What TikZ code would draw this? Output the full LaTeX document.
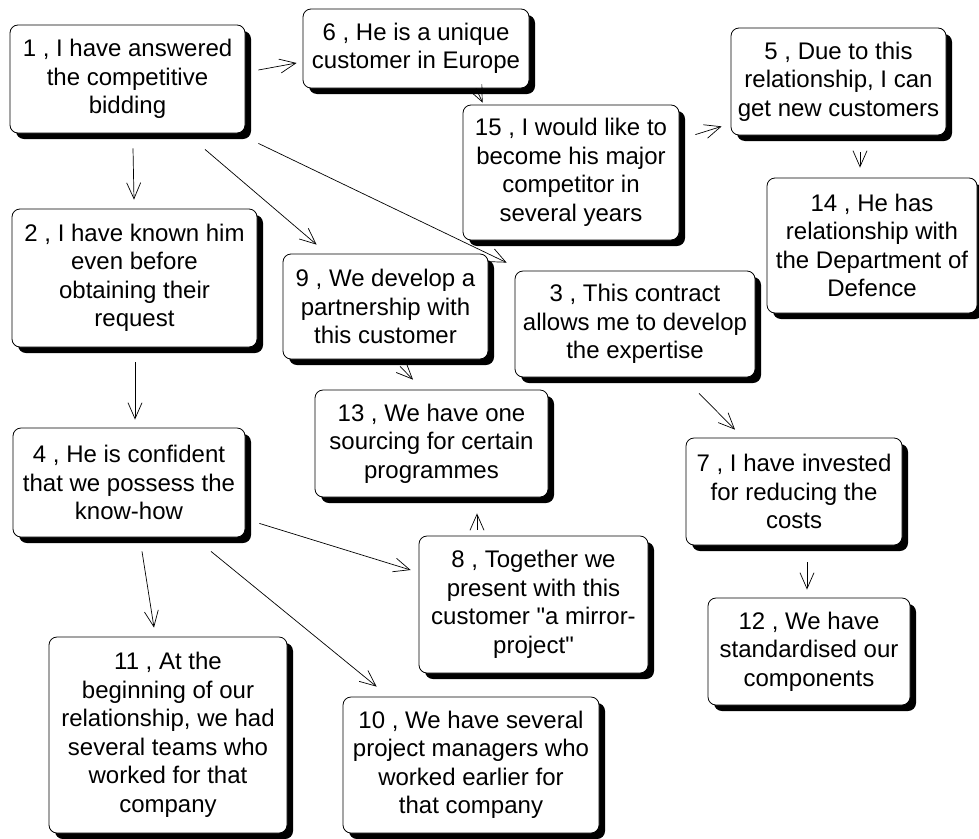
\documentclass[tikz,border=0pt]{standalone}
\usepackage{fontspec}
\setmainfont{Liberation Sans}[Ligatures=TeXOff]
\usetikzlibrary{arrows.meta,shadows}
\begin{document}
\begin{tikzpicture}[x=1pt,y=-1pt,
  card/.style={draw=black, line width=0.8pt, fill=white, rounded corners=8pt,
    align=center, inner sep=0pt, font=\fontsize{24}{28.5}\selectfont,
    drop shadow={shadow xshift=6pt, shadow yshift=-6pt, fill=black, opacity=1}},
  link/.style={line width=0.7pt, -{Straight Barb[length=16pt,width=14pt]}}]
\useasboundingbox (0,0) rectangle (979,838);

% statements
\node[card, minimum width=235pt, minimum height=108pt] (n1) at (127.5,79)
  {1 , I have answered\\the competitive\\bidding};
\node[card, minimum width=226pt, minimum height=79pt] (n6) at (416,48.5)
  {6 , He is a unique\\customer in Europe};
\node[card, minimum width=216pt, minimum height=135pt] (n15) at (571,172.5)
  {15 , I would like to\\become his major\\competitor in\\several years};
\node[card, minimum width=215pt, minimum height=107pt] (n5) at (838.5,81.5)
  {5 , Due to this\\relationship, I can\\get new customers};
\node[card, minimum width=210pt, minimum height=135pt] (n14) at (872,245.5)
  {14 , He has\\relationship with\\the Department of\\Defence};
\node[card, minimum width=245pt, minimum height=138pt] (n2) at (134.5,278)
  {2 , I have known him\\even before\\obtaining their\\request};
\node[card, minimum width=205pt, minimum height=105pt] (n9) at (385.5,306.5)
  {9 , We develop a\\partnership with\\this customer};
\node[card, minimum width=240pt, minimum height=106pt] (n3) at (635,324)
  {3 , This contract\\allows me to develop\\the expertise};
\node[card, minimum width=233pt, minimum height=107pt] (n13) at (431.5,443.5)
  {13 , We have one\\sourcing for certain\\programmes};
\node[card, minimum width=232pt, minimum height=109pt] (n4) at (129,482.5)
  {4 , He is confident\\that we possess the\\know-how};
\node[card, minimum width=216pt, minimum height=107pt] (n7) at (794,491.5)
  {7 , I have invested\\for reducing the\\costs};
\node[card, minimum width=202pt, minimum height=107pt] (n12) at (809,651.5)
  {12 , We have\\standardised our\\components};
\node[card, minimum width=229pt, minimum height=137pt] (n8) at (533.5,604.5)
  {8 , Together we\\present with this\\customer "a mirror-\\project"};
\node[card, minimum width=256pt, minimum height=136pt] (n10) at (471,765)
  {10 , We have several\\project managers who\\worked earlier for\\that company};
\node[card, minimum width=238pt, minimum height=196pt] (n11) at (168,735)
  {11 , At the\\beginning of our\\relationship, we had\\several teams who\\worked for that\\company};

% influences
\draw[link] ([shift={(13,-9)}]n1.east) -- ([shift={(-6,14.5)}]n6.west);
\draw[link] ([shift={(5.5,15)}]n1.south) -- ([shift={(-0.5,-9)}]n2.north);
\draw[link] ([shift={(77.5,16)}]n1.south) -- ([shift={(34,-9)}]n9.north west);
\draw[link] ([shift={(13,10)}]n1.south east) -- ([shift={(-8,-8)}]n3.north west);
\draw[link] ([shift={(60,0)}]n6.south) -- ([shift={(20,-2)}]n15.north west);
\draw[link] ([shift={(16,30)}]n15.north east) -- ([shift={(-9,-9)}]n5.south west);
\draw[link] ([shift={(21.5,17)}]n5.south) -- ([shift={(-12,-10)}]n14.north);
\draw[link] ([shift={(0.5,15)}]n2.south) -- ([shift={(6,-8)}]n4.north);
\draw[link] ([shift={(14.5,7)}]n9.south) -- ([shift={(-18.5,-10)}]n13.north);
\draw[link] ([shift={(64,16)}]n3.south) -- ([shift={(-59,-8)}]n7.north);
\draw[link] ([shift={(13,17)}]n7.south) -- ([shift={(-2,-8)}]n12.north);
\draw[link] ([shift={(14,-14)}]n4.south east) -- ([shift={(-8,-34.5)}]n8.west);
\draw[link] ([shift={(82,14)}]n4.south) -- ([shift={(34,-10)}]n10.north west);
\draw[link] ([shift={(13,14)}]n4.south) -- ([shift={(-14,-9)}]n11.north);
\draw[link] ([shift={(-56.5,-6)}]n8.north) -- ([shift={(45.5,16)}]n13.south);
\end{tikzpicture}
\end{document}
